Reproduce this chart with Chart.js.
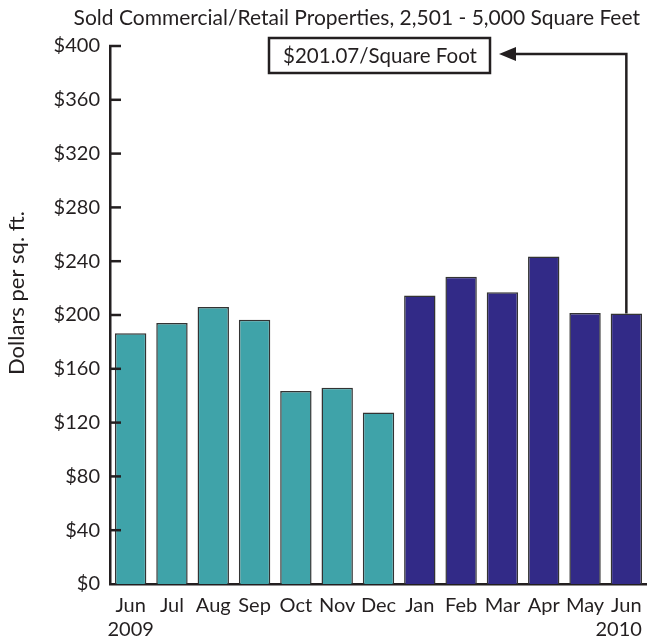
<!DOCTYPE html>
<html>
<head>
<meta charset="utf-8">
<script src="https://cdn.jsdelivr.net/npm/chart.js@4.4.1/dist/chart.umd.min.js"></script>
<style>
  body { margin: 0; background: #fff; }
</style>
</head>
<body>
<canvas id="myChart" width="647" height="643"></canvas>
<script>
// chart values
const months = ['Jun', 'Jul', 'Aug', 'Sep', 'Oct', 'Nov', 'Dec', 'Jan', 'Feb', 'Mar', 'Apr', 'May', 'Jun'];
const years = ['2009', '', '', '', '', '', '', '', '', '', '', '', '2010'];
const prices = [186.5, 194, 206, 196.5, 143.5, 146, 127.5, 214.5, 228.5, 217, 243.5, 201.5, 201.07];
const yTicks = [0, 40, 80, 120, 160, 200, 240, 280, 320, 360, 400];
const chartTitle = 'Sold Commercial/Retail Properties, 2,501 - 5,000 Square Feet';
const yTitle = 'Dollars per sq. ft.';
const calloutText = '$201.07/Square Foot';

const teal = '#3fa3a9';
const navy = '#322a87';
const ink = '#231f20';
const fontFam = 'Lato, "Open Sans", sans-serif';

const lastIdx = months.length - 1;
// the final year label sits a bit left so it stays inside the canvas
const labels = months.map((m, i) => {
  if (!years[i]) return m;
  return [m, i === lastIdx ? years[i] + '\u00a0\u00a0\u00a0' : years[i]];
});
const barColors = years.map((y, i) => i < 7 ? teal : navy);

const extras = {
  id: 'extras',
  afterDraw(chart) {
    const ctx = chart.ctx;
    const x = chart.scales.x;
    const y = chart.scales.y;
    const area = chart.chartArea;
    ctx.save();
    ctx.fillStyle = ink;
    ctx.strokeStyle = ink;

    // title
    ctx.font = '21px ' + fontFam;
    ctx.textAlign = 'right';
    ctx.textBaseline = 'middle';
    ctx.fillText(chartTitle, 640, 18);

    // y axis title
    ctx.save();
    ctx.translate(17, 293);
    ctx.rotate(-Math.PI / 2);
    ctx.textAlign = 'center';
    ctx.font = '22px ' + fontFam;
    ctx.fillText(yTitle, 0, 0);
    ctx.restore();

    // tick marks on the inside of the axis
    ctx.lineWidth = 2.5;
    y.ticks.forEach(t => {
      if (t.value === 0) return;
      const py = y.getPixelForValue(t.value);
      ctx.beginPath();
      ctx.moveTo(area.left - 1, py);
      ctx.lineTo(area.left + 11, py);
      ctx.stroke();
    });

    // callout box
    ctx.lineWidth = 2.5;
    ctx.strokeRect(269, 38, 221, 35);
    ctx.font = '20.5px ' + fontFam;
    ctx.textAlign = 'center';
    ctx.fillText(calloutText, 380, 56);

    // arrow from last bar to the box
    const ax = x.getPixelForValue(lastIdx);
    const ay = y.getPixelForValue(prices[lastIdx]);
    ctx.beginPath();
    ctx.moveTo(ax, ay);
    ctx.lineTo(ax, 54);
    ctx.lineTo(514, 54);
    ctx.stroke();
    ctx.beginPath();
    ctx.moveTo(499, 54);
    ctx.lineTo(516, 47);
    ctx.lineTo(516, 61);
    ctx.closePath();
    ctx.fill();
    ctx.restore();
  }
};

const ctx = document.getElementById('myChart').getContext('2d');
new Chart(ctx, {
  type: 'bar',
  data: {
    labels: labels,
    datasets: [{
      data: prices,
      backgroundColor: barColors,
      borderColor: '#333333',
      borderWidth: 1.5,
      borderSkipped: 'bottom',
      barPercentage: 0.76,
      categoryPercentage: 1
    }]
  },
  options: {
    responsive: false,
    animation: false,
    layout: { padding: { top: 46, right: 0, left: 0, bottom: 0 } },
    plugins: {
      legend: { display: false },
      title: { display: false },
      tooltip: { enabled: false }
    },
    scales: {
      x: {
        grid: { display: false, drawTicks: false },
        border: { display: true, color: ink, width: 2.5 },
        ticks: {
          color: ink,
          padding: 10,
          maxRotation: 0,
          autoSkip: false,
          font: { family: fontFam, size: 20, lineHeight: 1.18 }
        },
        afterFit: s => { s.height = 59; s.paddingLeft = 0; s.paddingRight = 0; }
      },
      y: {
        min: 0,
        max: 400,
        afterBuildTicks: s => { s.ticks = yTicks.map(v => ({ value: v })); },
        grid: { display: false, drawTicks: false },
        border: { display: true, color: ink, width: 2.5 },
        ticks: {
          color: ink,
          padding: 10,
          font: { family: fontFam, size: 20 },
          callback: v => '$' + v
        },
        afterFit: s => { s.width = 110; }
      }
    }
  },
  plugins: [extras]
});
</script>
</body>
</html>
